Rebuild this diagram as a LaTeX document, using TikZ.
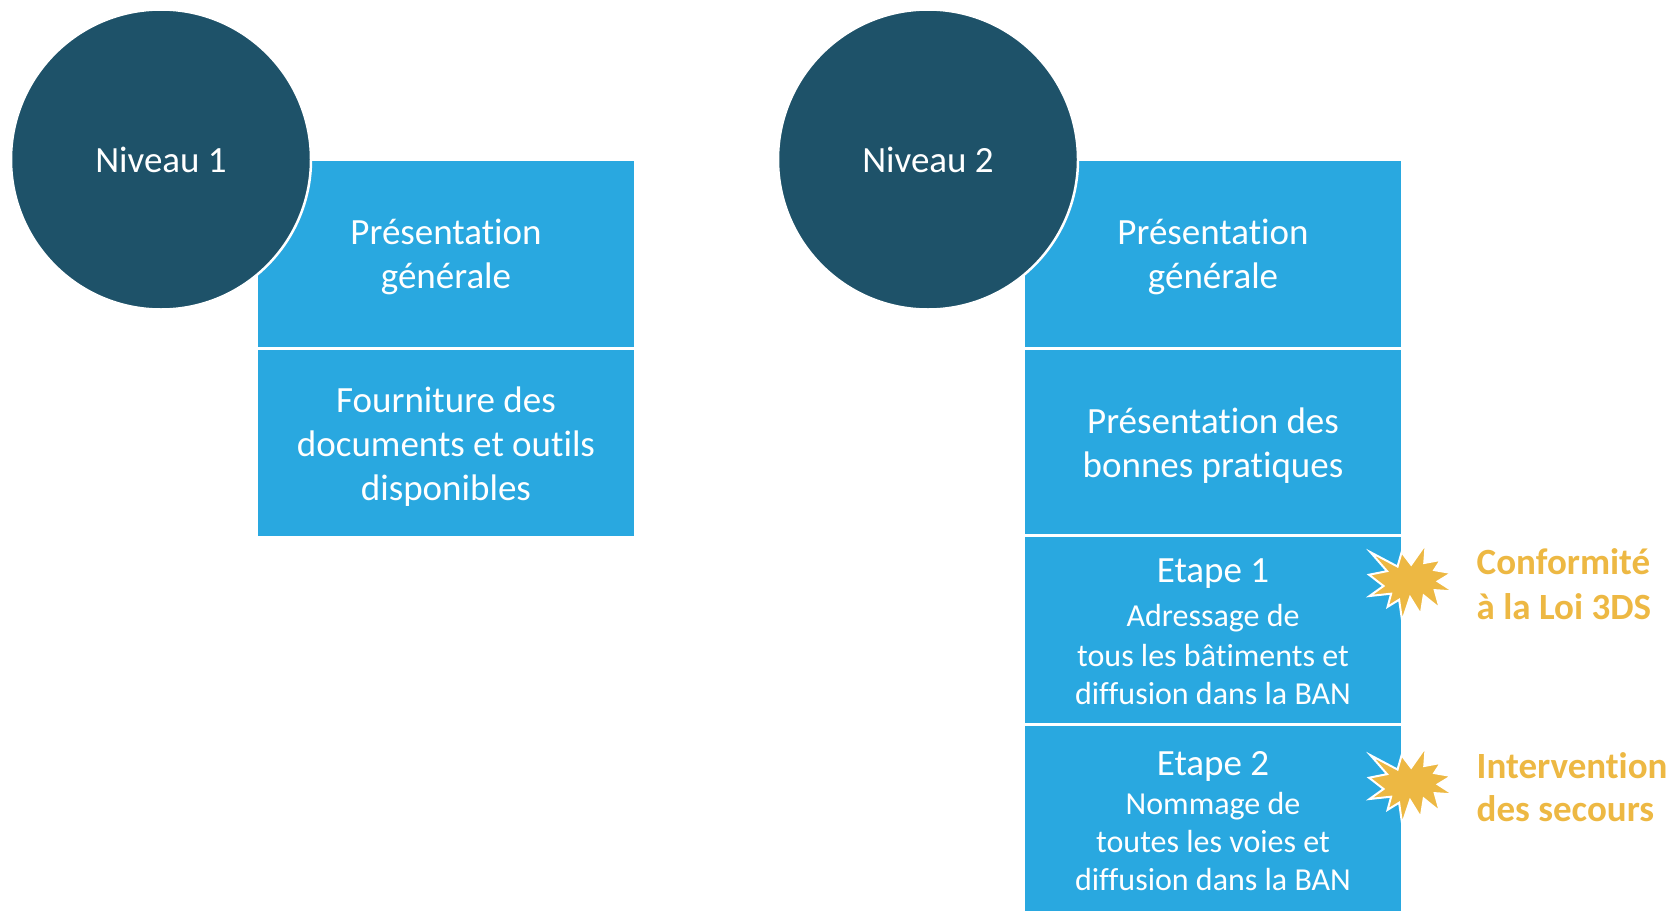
\documentclass[tikz,border=0pt]{standalone}
\usepackage{fontspec}
\setmainfont{Carlito}[Ligatures={NoCommon,NoContextual},Contextuals=NoAlternate,RawFeature={-liga;-clig}]
\definecolor{boxblue}{HTML}{29A8E0}
\definecolor{darkteal}{HTML}{1E5269}
\definecolor{burstorange}{HTML}{EDB843}
\begin{document}
\begin{tikzpicture}[x=1pt,y=-1pt,
  cell/.style={draw=white, line width=2.5pt, fill=boxblue, inner sep=0pt,
               outer sep=0pt, minimum width=378.5pt, anchor=north west},
  level/.style={circle, fill=darkteal, draw=white, line width=2.5pt,
                minimum size=300pt, inner sep=0pt, text=white,
                font=\fontsize{37}{45}\selectfont},
  bigline/.style={text=white, anchor=base, inner sep=0pt,
                  font=\fontsize{37}{45}\selectfont},
  smallline/.style={text=white, anchor=base, inner sep=0pt,
                  font=\fontsize{32}{39}\selectfont},
  note/.style={text=burstorange, anchor=base west, inner sep=0pt,
               font=\fontsize{37}{45}\selectfont\bfseries},
  burst/.pic={
    \filldraw[fill=burstorange, draw=white, line width=2pt, line join=miter,
              xscale=0.3903, yscale=0.3565]
      (108,58) -- (145.22,0) -- (141.55,53.25) -- (183.80,44.57) -- (167.02,73.15)
      -- (210.97,81.37) -- (176.07,104.75) -- (216,132.90) -- (168.37,129.42)
      -- (181.45,180.95) -- (140.20,144.57) -- (132.47,197.37) -- (105.32,149.35)
      -- (84.85,216) -- (77.15,156.27) -- (47.62,176.17) -- (56.67,139.37)
      -- (1.35,145.87) -- (37.22,117.75) -- (0,86.15) -- (46.27,76.17)
      -- (3.70,22.95) -- (73.12,63.20) -- (83.52,22.95) -- cycle;
  }]
\useasboundingbox (0,0) rectangle (1672,910);

% ---- Niveau 1 column
\node[cell, minimum height=189.05pt] (a1) at (256.75,159.25) {};
\node[cell, minimum height=188.45pt] (a2) at (256.75,348.3) {};
% ---- Niveau 2 column
\node[cell, minimum height=189.05pt] (b1) at (1023.75,159.25) {};
\node[cell, minimum height=187pt]    (b2) at (1023.75,348.3) {};
\node[cell, minimum height=189pt]    (b3) at (1023.75,535.3) {};
\node[cell, minimum height=190.7pt]  (b4) at (1023.75,724.3) {};

% ---- circles
\node[level] (n1) at (161,159.5) {Niveau 1};
\node[level] (n2) at (928,159.5) {Niveau 2};

% ---- bursts
\pic (s1) at (1369,544) {burst};
\pic (s2) at (1369,747) {burst};

% ---- texts, column 1
\node[bigline] (a1l1) at (446,244.5) {Présentat\kern0pt ion};
\node[bigline] (a1l2) at (446,288.5) {générale};
\node[bigline] (a2l1) at (446,412.5) {Fourniture des};
\node[bigline] (a2l2) at (446,456.5) {documents et out\kern0pt ils};
\node[bigline] (a2l3) at (446,500.5) {disponibles};

% ---- texts, column 2
\node[bigline] (b1l1) at (1213,244.5) {Présentat\kern0pt ion};
\node[bigline] (b1l2) at (1213,288.5) {générale};
\node[bigline] (b2l1) at (1213,433.3) {Présentat\kern0pt ion des};
\node[bigline] (b2l2) at (1213,477.3) {bonnes prat\kern0pt iques};
\node[bigline] (b3l1) at (1213,582) {Etape 1};
\node[smallline] (b3l2) at (1213,626) {Adressage de};
\node[smallline] (b3l3) at (1213,666.5) {tous les bât\kern0pt iments et};
\node[smallline] (b3l4) at (1213,704) {diffusion dans la BAN};
\node[bigline] (b4l1) at (1213,775) {Etape 2};
\node[smallline] (b4l2) at (1213,814) {Nommage de};
\node[smallline] (b4l3) at (1213,852.3) {toutes les voies et};
\node[smallline] (b4l4) at (1213,890) {diffusion dans la BAN};

% ---- notes
\node[note] (c1) at (1476.5,574.5) {Conformité};
\node[note] (c2) at (1476.5,619.5) {à la Loi 3DS};
\node[note] (d1) at (1476.5,778.3) {Intervent\kern0pt ion};
\node[note] (d2) at (1476.5,821.7) {des secours};
\end{tikzpicture}
\end{document}
